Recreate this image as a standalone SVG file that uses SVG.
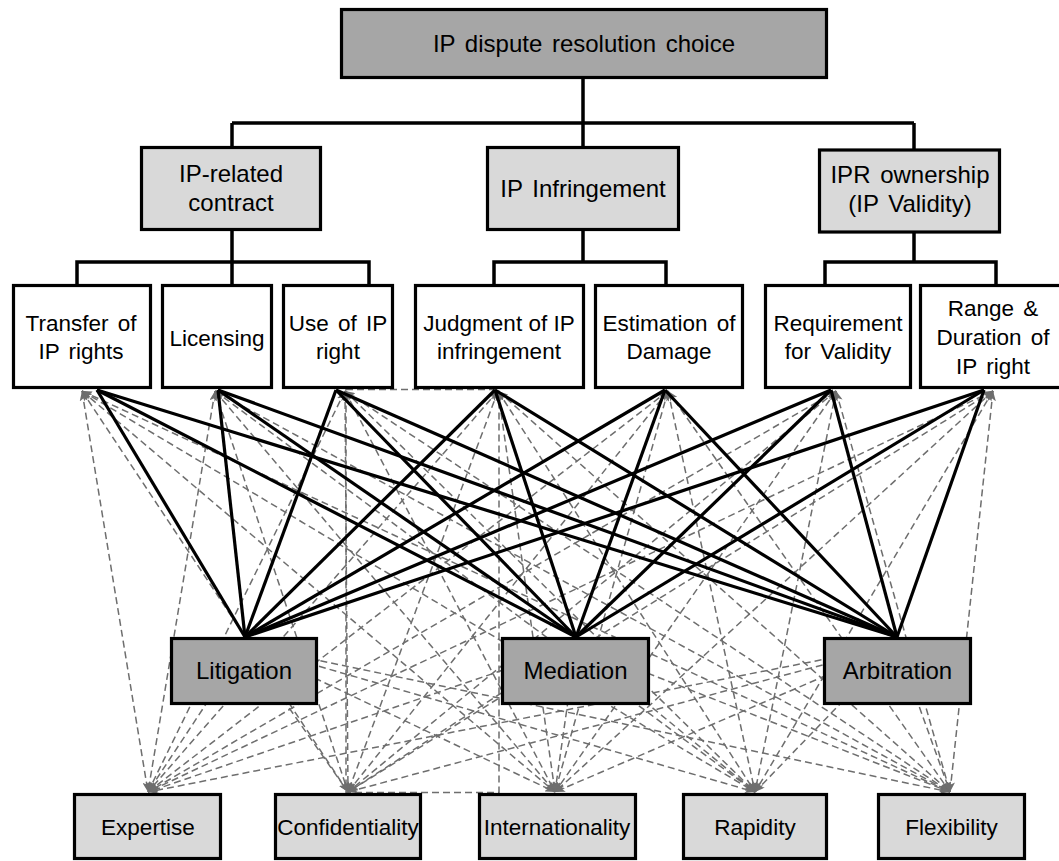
<svg xmlns="http://www.w3.org/2000/svg" width="1059" height="861" viewBox="0 0 1059 861">
<style>
.box{stroke:#000;stroke-width:3.2}
.dark{fill:#a6a6a6}
.light{fill:#d9d9d9}
.white{fill:#fff}
text{font-family:"Liberation Sans",Arial,sans-serif;fill:#000;text-anchor:middle}
.t24{font-size:24px;word-spacing:3px}
.crit{font-size:22.5px;word-spacing:3px}
.bot{font-size:22.5px}
.tree{stroke:#000;stroke-width:3.5;fill:none;stroke-linejoin:miter}
.solid line{stroke:#000;stroke-width:3.2}
.dd line{stroke:#6e6e6e;stroke-width:1.5;stroke-dasharray:7 4;marker-start:url(#ah);marker-end:url(#ah)}
.da line{stroke:#6e6e6e;stroke-width:1.5;stroke-dasharray:7 4;marker-end:url(#ah)}
.drect{stroke:#6e6e6e;stroke-width:1.5;stroke-dasharray:7 4;fill:none}
</style>
<defs>
<marker id="ah" markerUnits="userSpaceOnUse" markerWidth="11" markerHeight="8" refX="10" refY="4" orient="auto-start-reverse">
<path d="M0,0 L10,4 L0,8 L2.5,4 z" fill="#6e6e6e"/>
</marker>
</defs>
<g id="connectors">
<path class="tree" d="M583 79 V123 M232 123 H914 M232 123 V147 M583 123 V147 M914 123 V150 M232 230 V262 M77 285 V262 H369 V285 M232 262 V285 M583 230 V262 M494 285 V262 H666 V285 M914 232 V262 M825 285 V262 H996 V285"/>
<rect class="drect" x="346" y="389.5" width="153" height="403"/>
<g class="dd">
<line x1="82" y1="391" x2="148" y2="792"/><line x1="82" y1="391" x2="348" y2="792"/><line x1="82" y1="391" x2="555" y2="792"/><line x1="82" y1="391" x2="755" y2="792"/><line x1="82" y1="391" x2="950" y2="792"/>
<line x1="215" y1="391" x2="148" y2="792"/><line x1="215" y1="391" x2="348" y2="792"/><line x1="215" y1="391" x2="555" y2="792"/><line x1="215" y1="391" x2="755" y2="792"/><line x1="215" y1="391" x2="950" y2="792"/>
<line x1="345" y1="391" x2="148" y2="792"/><line x1="345" y1="391" x2="348" y2="792"/><line x1="345" y1="391" x2="555" y2="792"/><line x1="345" y1="391" x2="755" y2="792"/><line x1="345" y1="391" x2="950" y2="792"/>
<line x1="498" y1="391" x2="148" y2="792"/><line x1="498" y1="391" x2="348" y2="792"/><line x1="498" y1="391" x2="555" y2="792"/><line x1="498" y1="391" x2="755" y2="792"/><line x1="498" y1="391" x2="950" y2="792"/>
<line x1="668" y1="391" x2="148" y2="792"/><line x1="668" y1="391" x2="348" y2="792"/><line x1="668" y1="391" x2="555" y2="792"/><line x1="668" y1="391" x2="755" y2="792"/><line x1="668" y1="391" x2="950" y2="792"/>
<line x1="836" y1="391" x2="148" y2="792"/><line x1="836" y1="391" x2="348" y2="792"/><line x1="836" y1="391" x2="555" y2="792"/><line x1="836" y1="391" x2="755" y2="792"/><line x1="836" y1="391" x2="950" y2="792"/>
<line x1="993" y1="391" x2="148" y2="792"/><line x1="993" y1="391" x2="348" y2="792"/><line x1="993" y1="391" x2="555" y2="792"/><line x1="993" y1="391" x2="755" y2="792"/><line x1="993" y1="391" x2="950" y2="792"/>
</g>
<g class="da">
<line x1="245" y1="645" x2="148" y2="792"/><line x1="245" y1="645" x2="348" y2="792"/><line x1="245" y1="645" x2="555" y2="792"/><line x1="245" y1="645" x2="755" y2="792"/><line x1="245" y1="645" x2="950" y2="792"/>
<line x1="576" y1="645" x2="148" y2="792"/><line x1="576" y1="645" x2="348" y2="792"/><line x1="576" y1="645" x2="555" y2="792"/><line x1="576" y1="645" x2="755" y2="792"/><line x1="576" y1="645" x2="950" y2="792"/>
<line x1="897" y1="645" x2="148" y2="792"/><line x1="897" y1="645" x2="348" y2="792"/><line x1="897" y1="645" x2="555" y2="792"/><line x1="897" y1="645" x2="755" y2="792"/><line x1="897" y1="645" x2="950" y2="792"/>
</g>
<g class="solid">
<line x1="97" y1="390" x2="245" y2="637"/><line x1="97" y1="390" x2="576" y2="637"/><line x1="97" y1="390" x2="897" y2="637"/>
<line x1="218" y1="390" x2="245" y2="637"/><line x1="218" y1="390" x2="576" y2="637"/><line x1="218" y1="390" x2="897" y2="637"/>
<line x1="336" y1="390" x2="245" y2="637"/><line x1="336" y1="390" x2="576" y2="637"/><line x1="336" y1="390" x2="897" y2="637"/>
<line x1="495" y1="390" x2="245" y2="637"/><line x1="495" y1="390" x2="576" y2="637"/><line x1="495" y1="390" x2="897" y2="637"/>
<line x1="665" y1="390" x2="245" y2="637"/><line x1="665" y1="390" x2="576" y2="637"/><line x1="665" y1="390" x2="897" y2="637"/>
<line x1="831" y1="390" x2="245" y2="637"/><line x1="831" y1="390" x2="576" y2="637"/><line x1="831" y1="390" x2="897" y2="637"/>
<line x1="984" y1="390" x2="245" y2="637"/><line x1="984" y1="390" x2="576" y2="637"/><line x1="984" y1="390" x2="897" y2="637"/>
</g>
</g>
<g id="goal"><rect class="box dark" x="341.5" y="9.5" width="485" height="68"/><text class="t24" x="584" y="52">IP dispute resolution choice</text></g>
<g id="ip-contract"><rect class="box light" x="141.5" y="147.5" width="179" height="82"/><text class="t24" x="231" y="182">IP-related</text><text class="t24" x="231" y="211">contract</text></g>
<g id="ip-infringement"><rect class="box light" x="487.5" y="147.5" width="191" height="82"/><text class="t24" x="583" y="197">IP Infringement</text></g>
<g id="ipr-ownership"><rect class="box light" x="819.5" y="150" width="180" height="82"/><text class="t24" x="910" y="183">IPR ownership</text><text class="t24" x="910" y="212">(IP Validity)</text></g>
<g id="transfer"><rect class="box white" x="13.5" y="285.5" width="137" height="102"/><text class="crit" x="81" y="331">Transfer of</text><text class="crit" x="81" y="359">IP rights</text></g>
<g id="licensing"><rect class="box white" x="162.5" y="285.5" width="109" height="102"/><text class="crit" x="217" y="346">Licensing</text></g>
<g id="use-of-ip"><rect class="box white" x="283.5" y="285.5" width="109" height="102"/><text class="crit" x="338" y="331">Use of IP</text><text class="crit" x="338" y="359">right</text></g>
<g id="judgment"><rect class="box white" x="415.5" y="285.5" width="168" height="102"/><text class="crit" x="499" y="331" style="word-spacing:0">Judgment of IP</text><text class="crit" x="499" y="359">infringement</text></g>
<g id="estimation"><rect class="box white" x="595.5" y="285.5" width="147" height="102"/><text class="crit" x="669" y="331">Estimation of</text><text class="crit" x="669" y="359">Damage</text></g>
<g id="requirement"><rect class="box white" x="765.5" y="285.5" width="145" height="102"/><text class="crit" x="838" y="331">Requirement</text><text class="crit" x="838" y="359">for Validity</text></g>
<g id="range"><rect class="box white" x="920.5" y="285.5" width="145" height="102"/><text class="crit" x="993" y="316">Range &amp;</text><text class="crit" x="993" y="345">Duration of</text><text class="crit" x="993" y="374">IP right</text></g>
<g id="litigation"><rect class="box dark" x="171.5" y="638.5" width="145" height="65"/><text class="t24" x="244" y="679">Litigation</text></g>
<g id="mediation"><rect class="box dark" x="502.5" y="638.5" width="146" height="65"/><text class="t24" x="575.5" y="679">Mediation</text></g>
<g id="arbitration"><rect class="box dark" x="824.5" y="638.5" width="146" height="65"/><text class="t24" x="897.5" y="679">Arbitration</text></g>
<g id="expertise"><rect class="box light" x="74.5" y="794.5" width="146" height="64"/><text class="bot" x="148" y="835">Expertise</text></g>
<g id="confidentiality"><rect class="box light" x="275.5" y="794.5" width="145" height="64"/><text class="bot" x="348" y="835">Confidentiality</text></g>
<g id="internationality"><rect class="box light" x="479.5" y="794.5" width="156" height="64"/><text class="bot" x="557" y="835">Internationality</text></g>
<g id="rapidity"><rect class="box light" x="683.5" y="794.5" width="143" height="64"/><text class="bot" x="755" y="835">Rapidity</text></g>
<g id="flexibility"><rect class="box light" x="878.5" y="794.5" width="146" height="64"/><text class="bot" x="951.5" y="835">Flexibility</text></g>
</svg>
